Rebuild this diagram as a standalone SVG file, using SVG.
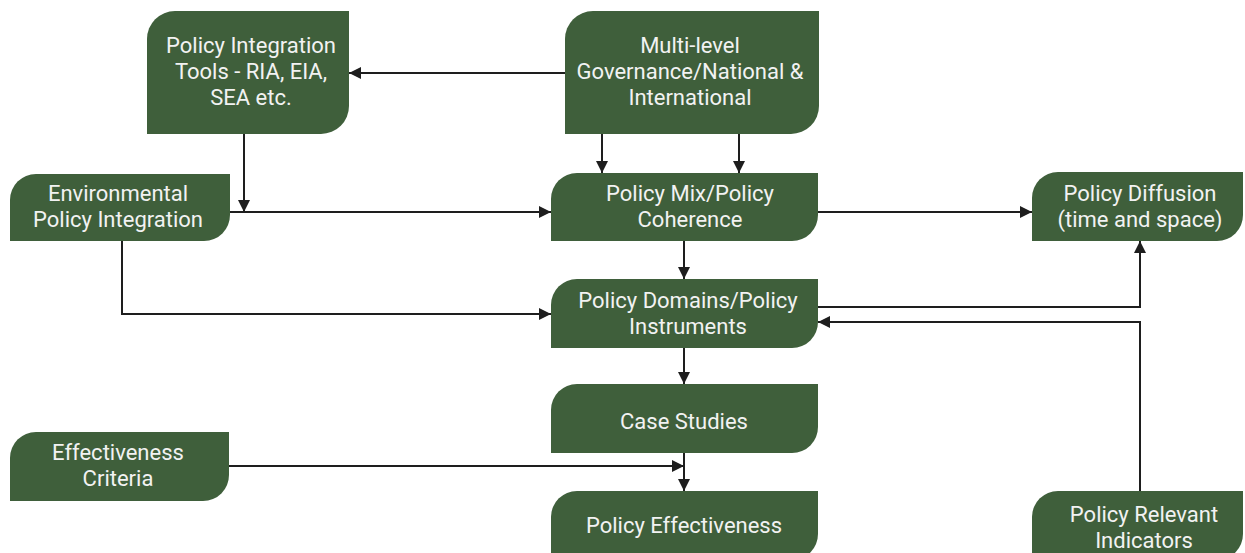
<svg xmlns="http://www.w3.org/2000/svg" width="1245" height="553" viewBox="0 0 1245 553">
<defs>
<style>
.n{fill:#3f5f3b}
.t{font-family:Roboto,"Liberation Sans",sans-serif;font-size:22px;fill:#f2f2f2;text-anchor:middle}
.c{fill:none;stroke:#1e1e1e;stroke-width:2}
</style>
<marker id="a" viewBox="0 0 12 12" refX="12" refY="6" markerWidth="12" markerHeight="12" markerUnits="userSpaceOnUse" orient="auto">
<path d="M0,0 L12,6 L0,12 Z" fill="#1e1e1e"/>
</marker>
</defs>
<rect width="1245" height="553" fill="#ffffff"/>
<g id="connectors">
<path class="c" d="M565,73 H349" marker-end="url(#a)"/>
<path class="c" d="M602,134 V173" marker-end="url(#a)"/>
<path class="c" d="M739,134 V173" marker-end="url(#a)"/>
<path class="c" d="M244,134 V212" marker-end="url(#a)"/>
<path class="c" d="M230,212 H551" marker-end="url(#a)"/>
<path class="c" d="M818,212 H1032" marker-end="url(#a)"/>
<path class="c" d="M684,241 V279" marker-end="url(#a)"/>
<path class="c" d="M122,241 V314 H551" marker-end="url(#a)"/>
<path class="c" d="M818,307 H1140 V241" marker-end="url(#a)"/>
<path class="c" d="M1140,491 V322 H818" marker-end="url(#a)"/>
<path class="c" d="M684,348 V384" marker-end="url(#a)"/>
<path class="c" d="M684,453 V491" marker-end="url(#a)"/>
<path class="c" d="M229,466 H684" marker-end="url(#a)"/>
</g>
<g id="pit">
<path class="n" d="M175,11 H349 V106 A28,28 0 0 1 321,134 H147 V39 A28,28 0 0 1 175,11 Z"/>
<text class="t" x="251" y="53">Policy Integration</text>
<text class="t" x="251" y="79">Tools - RIA, EIA,</text>
<text class="t" x="251" y="105">SEA etc.</text>
</g>
<g id="mlg">
<path class="n" d="M593,11 H819 V106 A28,28 0 0 1 791,134 H565 V39 A28,28 0 0 1 593,11 Z"/>
<text class="t" x="690" y="53">Multi-level</text>
<text class="t" x="690" y="79">Governance/National &amp;</text>
<text class="t" x="690" y="105">International</text>
</g>
<g id="epi">
<path class="n" d="M36,174 H230 V215 A26,26 0 0 1 204,241 H10 V200 A26,26 0 0 1 36,174 Z"/>
<text class="t" x="118" y="201">Environmental</text>
<text class="t" x="118" y="227">Policy Integration</text>
</g>
<g id="pmix">
<path class="n" d="M577,173 H818 V215 A26,26 0 0 1 792,241 H551 V199 A26,26 0 0 1 577,173 Z"/>
<text class="t" x="690" y="201">Policy Mix/Policy</text>
<text class="t" x="690" y="227">Coherence</text>
</g>
<g id="pdiff">
<path class="n" d="M1058,172 H1243 V215 A26,26 0 0 1 1217,241 H1032 V198 A26,26 0 0 1 1058,172 Z"/>
<text class="t" x="1140" y="201">Policy Diffusion</text>
<text class="t" x="1140" y="227">(time and space)</text>
</g>
<g id="pdom">
<path class="n" d="M577,279 H818 V322 A26,26 0 0 1 792,348 H551 V305 A26,26 0 0 1 577,279 Z"/>
<text class="t" x="688" y="308">Policy Domains/Policy</text>
<text class="t" x="688" y="334">Instruments</text>
</g>
<g id="case">
<path class="n" d="M577,384 H818 V427 A26,26 0 0 1 792,453 H551 V410 A26,26 0 0 1 577,384 Z"/>
<text class="t" x="684" y="429">Case Studies</text>
</g>
<g id="effcrit">
<path class="n" d="M36,432 H229 V475 A26,26 0 0 1 203,501 H10 V458 A26,26 0 0 1 36,432 Z"/>
<text class="t" x="118" y="460">Effectiveness</text>
<text class="t" x="118" y="486">Criteria</text>
</g>
<g id="peff">
<path class="n" d="M577,491 H818 V534 A26,26 0 0 1 792,560 H551 V517 A26,26 0 0 1 577,491 Z"/>
<text class="t" x="684" y="533">Policy Effectiveness</text>
</g>
<g id="pri">
<path class="n" d="M1058,491 H1243 V534 A26,26 0 0 1 1217,560 H1032 V517 A26,26 0 0 1 1058,491 Z"/>
<text class="t" x="1144" y="522">Policy Relevant</text>
<text class="t" x="1144" y="548">Indicators</text>
</g>
</svg>
